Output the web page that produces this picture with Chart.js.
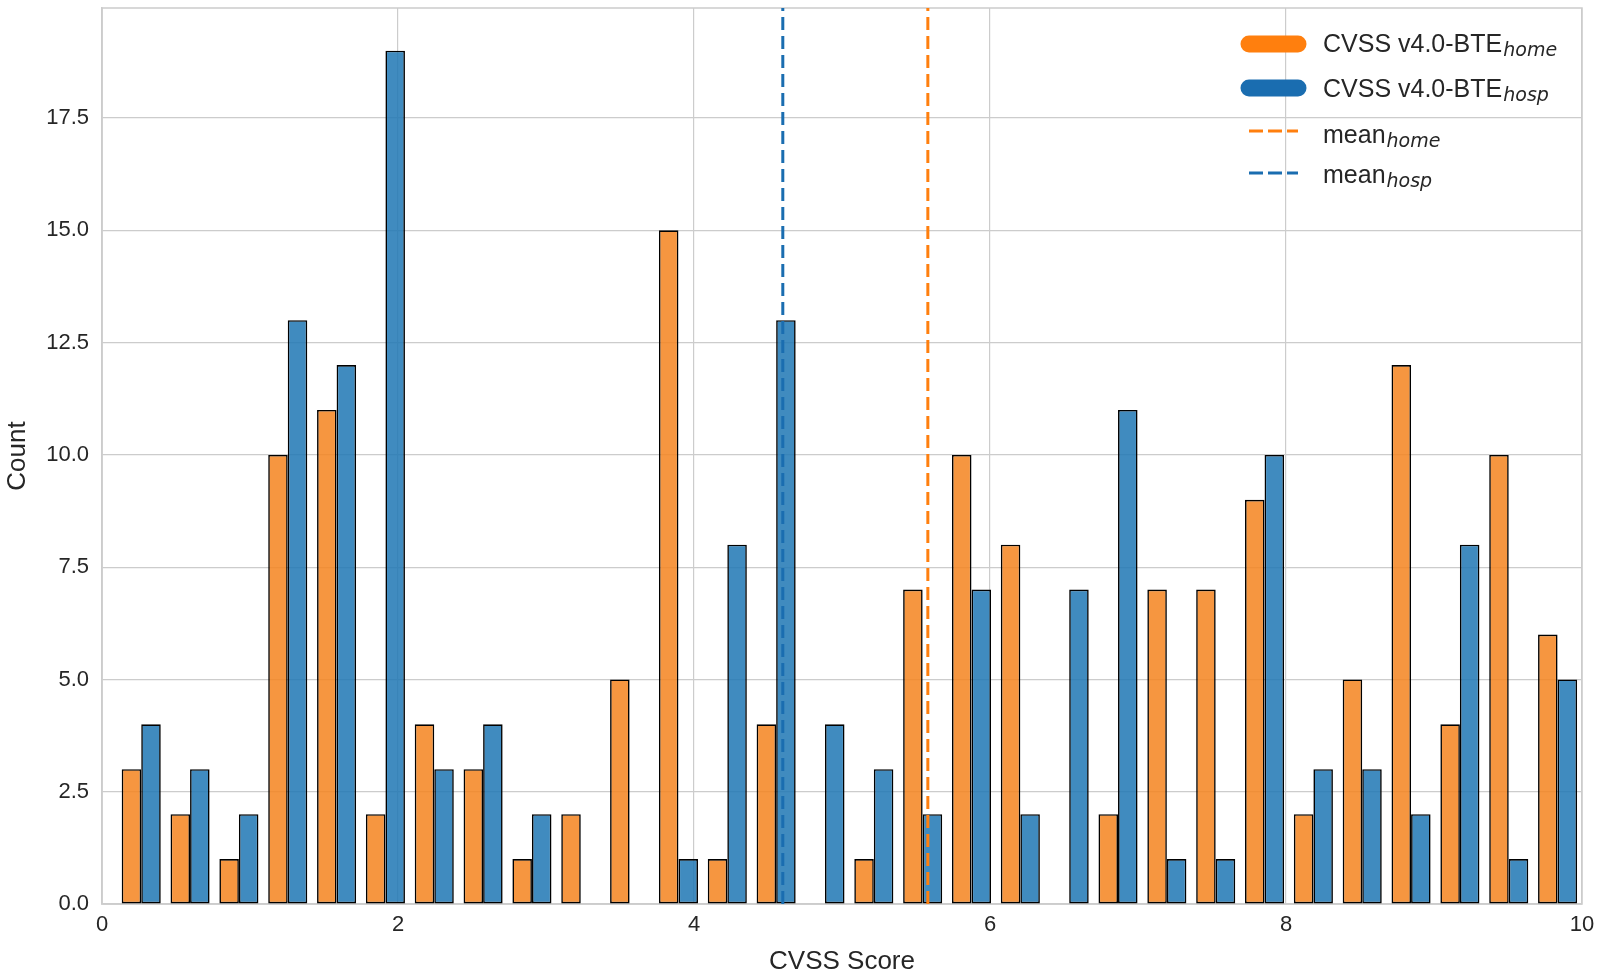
<!DOCTYPE html>
<html>
<head>
<meta charset="utf-8">
<script src="https://cdn.jsdelivr.net/npm/chart.js@4.4.1/dist/chart.umd.min.js"></script>
<style>
  html, body { margin: 0; padding: 0; background: #ffffff; }
  #wrap { width: 1600px; height: 979px; position: relative; }
</style>
</head>
<body>
<div id="wrap"><canvas id="cvssChart"></canvas></div>
<script>
// Histogram bins (centres of 30 bins, width 0.33, from 0.1 to 10)
const binCenters = [0.265, 0.595, 0.925, 1.255, 1.585, 1.915, 2.245, 2.575, 2.905, 3.235,
                    3.565, 3.895, 4.225, 4.555, 4.885, 5.215, 5.545, 5.875, 6.205, 6.535,
                    6.865, 7.195, 7.525, 7.855, 8.185, 8.515, 8.845, 9.175, 9.505, 9.835];

// Counts per bin
const homeCounts = [3, 2, 1, 10, 11, 2, 4, 3, 1, 2,
                    5, 15, 1, 4, 0, 1, 7, 10, 8, 0,
                    2, 7, 7, 9, 2, 5, 12, 4, 10, 6];
const hospCounts = [4, 3, 2, 13, 12, 19, 3, 4, 2, 0,
                    0, 1, 8, 13, 4, 3, 2, 7, 2, 7,
                    11, 1, 1, 10, 3, 3, 2, 8, 1, 5];

// Mean scores
const meanHome = 5.58;
const meanHosp = 4.60;

// Axis ticks
const xTicks = [0, 2, 4, 6, 8, 10];
const yTicks = [0, 2.5, 5, 7.5, 10, 12.5, 15, 17.5];
const yMax = 19.95;

// Legend text
const legendMain = ['CVSS v4.0-BTE', 'CVSS v4.0-BTE', 'mean', 'mean'];
const legendSub = ['home', 'hosp', 'home', 'hosp'];

const ORANGE_FILL = 'rgba(245, 132, 30, 0.85)';
const BLUE_FILL = 'rgba(31, 119, 180, 0.85)';
const ORANGE_LINE = '#ff7f0e';
const BLUE_LINE = '#1a6db0';
const TEXT = '#262626';
const GRID = '#cccccc';
const FONT = "'Liberation Sans', Arial, sans-serif";

function toPoints(counts) {
    return counts.map((c, i) => ({ x: binCenters[i], y: c }));
}

// Frame around the plot area (top and right spines too)
const framePlugin = {
    id: 'frame',
    beforeDatasetsDraw(chart) {
        const { ctx, chartArea: a } = chart;
        ctx.save();
        ctx.strokeStyle = GRID;
        ctx.lineWidth = 1.5;
        ctx.strokeRect(a.left, a.top, a.right - a.left, a.bottom - a.top);
        ctx.restore();
    }
};

// Legend with italic subscripts
const legendPlugin = {
    id: 'subLegend',
    afterDraw(chart) {
        const { ctx, chartArea: a } = chart;
        const handleX0 = a.right - 333;
        const handleX1 = a.right - 284;
        const textX = a.right - 259;
        const lineY = [36, 80, 123, 165];
        const baseY = [44, 89, 135, 175];
        const colors = [ORANGE_LINE, BLUE_LINE, ORANGE_LINE, BLUE_LINE];

        ctx.save();
        legendMain.forEach((label, i) => {
            const y = a.top + lineY[i];
            ctx.beginPath();
            ctx.strokeStyle = colors[i];
            if (i < 2) {
                ctx.lineWidth = 17;
                ctx.lineCap = 'round';
                ctx.setLineDash([]);
            } else {
                ctx.lineWidth = 3;
                ctx.lineCap = 'butt';
                ctx.setLineDash([14, 5]);
            }
            ctx.moveTo(handleX0, y);
            ctx.lineTo(handleX1, y);
            ctx.stroke();

            ctx.setLineDash([]);
            ctx.fillStyle = TEXT;
            ctx.textAlign = 'left';
            ctx.textBaseline = 'alphabetic';
            ctx.font = '25px ' + FONT;
            const by = a.top + baseY[i];
            ctx.fillText(label, textX, by);
            const w = ctx.measureText(label).width;
            ctx.font = "italic 19px 'DejaVu Sans', sans-serif";
            ctx.fillText(legendSub[i], textX + w + 1, by + 4);
        });
        ctx.restore();
    }
};

const ctx = document.getElementById('cvssChart').getContext('2d');
new Chart(ctx, {
    type: 'bar',
    data: {
        datasets: [
            {
                type: 'line',
                label: 'mean home',
                data: [{ x: meanHome, y: 0 }, { x: meanHome, y: yMax }],
                borderColor: ORANGE_LINE,
                borderWidth: 3,
                borderDash: [13, 6],
                pointRadius: 0,
                fill: false,
                order: 0
            },
            {
                type: 'line',
                label: 'mean hosp',
                data: [{ x: meanHosp, y: 0 }, { x: meanHosp, y: yMax }],
                borderColor: BLUE_LINE,
                borderWidth: 3,
                borderDash: [13, 6],
                pointRadius: 0,
                fill: false,
                order: 0
            },
            {
                label: 'CVSS v4.0-BTE home',
                data: toPoints(homeCounts),
                backgroundColor: ORANGE_FILL,
                borderColor: '#000000',
                borderWidth: 1.6,
                borderSkipped: false,
                categoryPercentage: 0.8,
                barPercentage: 1.0,
                order: 1
            },
            {
                label: 'CVSS v4.0-BTE hosp',
                data: toPoints(hospCounts),
                backgroundColor: BLUE_FILL,
                borderColor: '#000000',
                borderWidth: 1.6,
                borderSkipped: false,
                categoryPercentage: 0.8,
                barPercentage: 1.0,
                order: 1
            }
        ]
    },
    options: {
        responsive: true,
        maintainAspectRatio: false,
        animation: false,
        layout: { padding: { left: 0, right: 18, top: 8, bottom: 0 } },
        plugins: {
            legend: { display: false },
            tooltip: { enabled: false }
        },
        scales: {
            x: {
                type: 'linear',
                min: 0,
                max: 10,
                offset: false,
                afterBuildTicks: (scale) => { scale.ticks = xTicks.map(v => ({ value: v })); },
                afterFit: (scale) => {
                    scale.height = 75;
                    scale.paddingLeft = 0;
                    scale.paddingRight = 0;
                },
                grid: { color: GRID, lineWidth: 1.2, drawTicks: false, offset: false },
                border: { color: GRID, width: 1.5 },
                ticks: {
                    color: TEXT,
                    font: { family: FONT, size: 22 },
                    padding: 8,
                    autoSkip: false,
                    maxRotation: 0,
                    callback: (v) => String(v)
                },
                title: {
                    display: true,
                    text: 'CVSS Score',
                    color: TEXT,
                    font: { family: FONT, size: 26 },
                    padding: { top: 0, bottom: 2 }
                }
            },
            y: {
                min: 0,
                max: yMax,
                afterBuildTicks: (scale) => { scale.ticks = yTicks.map(v => ({ value: v })); },
                afterFit: (scale) => {
                    scale.width = 102;
                    scale.paddingTop = 0;
                    scale.paddingBottom = 0;
                },
                grid: { color: GRID, lineWidth: 1.2, drawTicks: false },
                border: { color: GRID, width: 1.5 },
                ticks: {
                    color: TEXT,
                    font: { family: FONT, size: 22 },
                    padding: 13,
                    callback: (v) => Number(v).toFixed(1)
                },
                title: {
                    display: true,
                    text: 'Count',
                    color: TEXT,
                    font: { family: FONT, size: 26 },
                    padding: { top: 2, bottom: 0 }
                }
            }
        }
    },
    plugins: [framePlugin, legendPlugin]
});
</script>
</body>
</html>
